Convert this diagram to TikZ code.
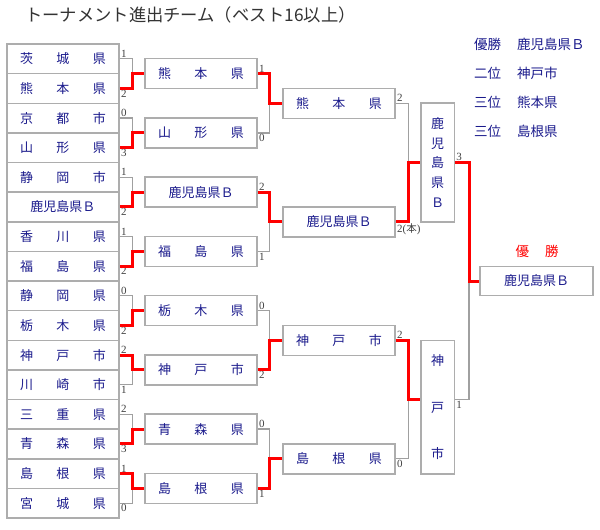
\documentclass[tikz,border=0pt]{standalone}
\usepackage{fontspec}
\setmainfont{Liberation Serif}
\newfontfamily\cjk{Noto Sans CJK JP}
\definecolor{navy}{HTML}{1A1A8C}
\definecolor{boxgray}{HTML}{ADADAD}
\definecolor{linegray}{HTML}{A0A0A0}
\definecolor{lblgray}{HTML}{404040}
\definecolor{titlegray}{HTML}{333333}
\newcommand{\tri}[3]{\makebox[86pt]{#1\hfill#2\hfill#3}}
\begin{document}
\begin{tikzpicture}[x=1pt,y=-1pt,
  box/.style={draw=boxgray, line width=1.5pt, fill=white, inner sep=0pt, text=navy, font=\cjk\fontsize{13}{13}\selectfont},
  r1box/.style={box, minimum width=112pt, minimum height=29.625pt},
  r2box/.style={box, minimum width=112pt, minimum height=30pt},
  conn/.style={draw=linegray, line width=1.3pt},
  win/.style={draw=red, line width=3pt},
  lbl/.style={font=\fontsize{11}{12}\selectfont, text=lblgray, inner sep=0.8pt},
  lt/.style={lbl, pos=0, anchor=south west},
  lb/.style={lbl, pos=0, anchor=north west},
  legend/.style={anchor=west, inner sep=0pt, text=navy, font=\cjk\fontsize{13.5}{13.5}\selectfont},
]
\path[use as bounding box] (0,0) rectangle (600,530);

% title
\node[anchor=west, inner sep=0pt, text=titlegray, font=\cjk\fontsize{17.3}{17.3}\selectfont] (title) at (25,15) {トーナメント進出チーム（ベスト16以上）};

% round 1 boxes
\foreach \i/\t in {0/{\tri{茨}{城}{県}}, 1/{\tri{熊}{本}{県}}, 2/{\tri{京}{都}{市}}, 3/{\tri{山}{形}{県}},
  4/{\tri{静}{岡}{市}}, 5/{鹿児島県Ｂ}, 6/{\tri{香}{川}{県}}, 7/{\tri{福}{島}{県}},
  8/{\tri{静}{岡}{県}}, 9/{\tri{栃}{木}{県}}, 10/{\tri{神}{戸}{市}}, 11/{\tri{川}{崎}{市}},
  12/{\tri{三}{重}{県}}, 13/{\tri{青}{森}{県}}, 14/{\tri{島}{根}{県}}, 15/{\tri{宮}{城}{県}}}
  \node[r1box] (a\i) at (63,{44+29.625*(\i+0.5)}) {\t};

% round 2 boxes
\foreach \j/\t in {0/{\tri{熊}{本}{県}}, 1/{\tri{山}{形}{県}}, 2/{鹿児島県Ｂ}, 3/{\tri{福}{島}{県}},
  4/{\tri{栃}{木}{県}}, 5/{\tri{神}{戸}{市}}, 6/{\tri{青}{森}{県}}, 7/{\tri{島}{根}{県}}}
  \node[r2box] (b\j) at (201,{44+29.625*(2*\j+1)}) {\t};

% round 3 boxes
\foreach \k/\t in {0/{\tri{熊}{本}{県}}, 1/{鹿児島県Ｂ}, 2/{\tri{神}{戸}{市}}, 3/{\tri{島}{根}{県}}}
  \node[r2box] (c\k) at (339,{44+29.625*(4*\k+2)}) {\t};

% semifinal boxes
\node[box, minimum width=33.5pt, minimum height=119pt, align=center, font=\cjk\fontsize{13}{19.6}\selectfont] (d0) at (437.5,162.5) {鹿\\児\\島\\県\\Ｂ};
\node[box, minimum width=33.5pt, minimum height=133.5pt, align=center, font=\cjk\fontsize{13}{46.7}\selectfont] (d1) at (437.5,407.25) {神\\戸\\市};

% final box
\node[box, minimum width=113pt, minimum height=29pt] (f) at (536.5,281) {鹿児島県Ｂ};
\node[inner sep=0pt, text=red, font=\cjk\fontsize{13.5}{13.5}\selectfont] (champ) at (537,251) {\makebox[43pt]{優\hfill 勝}};

% legend
\node[legend] (l1a) at (474,44) {優勝};
\node[legend] (l1b) at (517,44) {鹿児島県Ｂ};
\node[legend] (l2a) at (474,73.3) {二位};
\node[legend] (l2b) at (517,73.3) {神戸市};
\node[legend] (l3a) at (474,102.7) {三位};
\node[legend] (l3b) at (517,102.7) {熊本県};
\node[legend] (l4a) at (474,131.7) {三位};
\node[legend] (l4b) at (517,131.7) {島根県};

% round 1 connectors
\foreach \j/\st/\sb in {0/1/2, 1/0/3, 2/1/2, 3/1/2, 4/0/2, 5/2/1, 6/2/3, 7/1/0} {
  \pgfmathtruncatemacro\ta{2*\j}
  \pgfmathtruncatemacro\tb{2*\j+1}
  \draw[conn] (a\ta.east) -- node[lt] (s\ta) {\st} ++(13,0) |- (b\j.west);
  \draw[conn] (a\tb.east) -- node[lb] (s\tb) {\sb} ++(13,0) |- (b\j.west);
}
% round 2 connectors
\foreach \k/\st/\sb in {0/1/0, 1/2/1, 2/0/2, 3/0/1} {
  \pgfmathtruncatemacro\ta{2*\k}
  \pgfmathtruncatemacro\tb{2*\k+1}
  \draw[conn] (b\ta.east) -- node[lt] (t\ta) {\st} ++(12,0) |- (c\k.west);
  \draw[conn] (b\tb.east) -- node[lb] (t\tb) {\sb} ++(12,0) |- (c\k.west);
}
% round 3 connectors
\draw[conn] (c0.east) -- node[lt] (u0) {2} ++(12.5,0) |- (d0.west);
\draw[conn] (c1.east) -- node[lb] (u1) {2({\cjk\fontsize{10.5}{11}\selectfont 本})} ++(12.5,0) |- (d0.west);
\draw[conn] (c2.east) -- node[lt] (u2) {2} ++(12.5,0) |- ([yshift=7.75pt]d1.west);
\draw[conn] (c3.east) -- node[lb] (u3) {0} ++(12.5,0) |- ([yshift=7.75pt]d1.west);
% final connectors
\draw[conn] (d0.east) -- node[lt] (v0) {3} ++(14,0) |- (f.west);
\draw[conn] ([yshift=7.75pt]d1.east) -- node[lb] (v1) {1} ++(14,0) |- (f.west);

% winners
\foreach \j/\w in {0/1, 1/3, 2/5, 3/7, 4/9, 5/10, 6/13, 7/14}
  \draw[win] (a\w.east) -- ++(13,0) |- (b\j.west);
\foreach \k/\w in {0/0, 1/2, 2/5, 3/7}
  \draw[win] (b\w.east) -- ++(12,0) |- (c\k.west);
\draw[win] (c1.east) -- ++(12.5,0) |- (d0.west);
\draw[win] (c2.east) -- ++(12.5,0) |- ([yshift=7.75pt]d1.west);
\draw[win] (d0.east) -- ++(14,0) |- (f.west);
\end{tikzpicture}
\end{document}
